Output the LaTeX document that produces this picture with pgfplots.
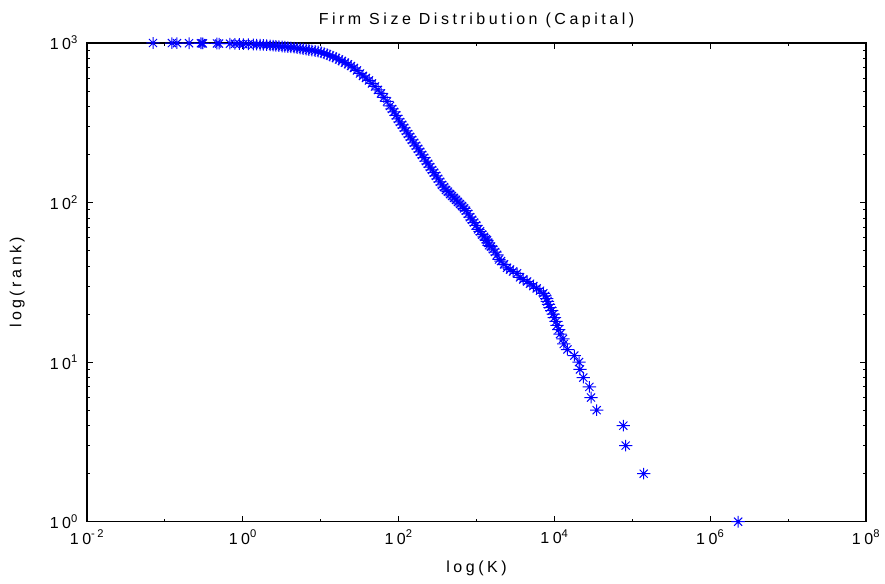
\documentclass[border=0pt]{standalone}
\usepackage{pgfplots}
\pgfplotsset{compat=1.18}
\usepackage{fontspec}
\setmainfont{Liberation Sans}[LetterSpace=22]

% MATLAB-style '*' marker: plus and cross
\pgfdeclareplotmark{mstar}{%
  \pgfpathmoveto{\pgfqpoint{-1.15\pgfplotmarksize}{0pt}}%
  \pgfpathlineto{\pgfqpoint{1.15\pgfplotmarksize}{0pt}}%
  \pgfpathmoveto{\pgfqpoint{0pt}{-\pgfplotmarksize}}%
  \pgfpathlineto{\pgfqpoint{0pt}{\pgfplotmarksize}}%
  \pgfpathmoveto{\pgfqpoint{-.7\pgfplotmarksize}{-.7\pgfplotmarksize}}%
  \pgfpathlineto{\pgfqpoint{.7\pgfplotmarksize}{.7\pgfplotmarksize}}%
  \pgfpathmoveto{\pgfqpoint{-.7\pgfplotmarksize}{.7\pgfplotmarksize}}%
  \pgfpathlineto{\pgfqpoint{.7\pgfplotmarksize}{-.7\pgfplotmarksize}}%
  \pgfusepathqstroke}

% capital K vs rank
\pgfplotstableread{
K rank
0.0704 1000
0.123 999
0.143 998
0.204 997
0.290 996
0.300 995
0.308 994
0.466 993
0.495 992
0.685 990
0.794 988
0.902 986
1.015 984
1.177 982
1.364 979
1.508 977
1.663 975
1.834 973
2.027 970
2.235 967
2.442 963
2.668 959
2.915 955
3.186 951
3.481 947
3.804 943
4.156 939
4.543 935
4.964 929
5.424 924
5.928 917
6.476 911
7.076 904
7.733 898
8.450 891
9.233 885
10.09 875
11.03 862
12.05 850
13.16 835
14.38 821
15.72 806
17.17 788
18.77 772
20.51 753
22.41 736
24.49 718
26.76 698
29.24 673
31.95 644
34.91 622
38.15 604
41.69 583
45.56 558
49.78 534
54.40 508
59.44 483
64.95 456
70.98 430
77.56 403
82.28 386
87.30 370
92.60 352
98.24 334
104.2 320
110.6 307
117.3 294
124.5 281
132.1 269
140.1 258
148.6 247
157.6 237
167.3 227
177.5 217
188.3 208
199.7 199
211.9 191
224.7 182
238.5 175
253.1 167
268.5 160
284.7 154
302.1 147
320.5 141
340.1 135
360.7 129
382.6 125
406.0 120
430.8 117
456.9 113
484.8 110
514.3 107
545.6 104
578.7 101
614.1 98
651.5 95
691.2 92
733.2 89
778.0 85
825.3 81
875.6 78
928.8 75
985.4 72
1045 68
1109 66
1177 63
1249 61
1324 59
1364 58
1405 56
1447 54
1535 53
1629 51
1728 49
1834 47
1945 44
2063 43
2254 41
2463 39
2692 38
2942 37
3311 36
3618 34
3980 33
4470 32
4860 31
5370 30
5930 29
6530 28
7210 27
7590 26
7960 25
8130 24
8410 23
8790 22
9230 21
9680 20
10000 19
10500 18
10800 17
11350 16
11800 15
12900 14
13200 13
14700 12
18000 11
20700 10
21300 9
23500 8
28100 7
29500 6
34900 5
76700 4
82200 3
140000 2
2280000 1
}\firmdata

\begin{document}
\begin{tikzpicture}
\begin{axis}[name=ax,
  scale only axis, width=779pt, height=478.7pt,
  xmode=log, ymode=log,
  xmin=1e-2, xmax=1e8, ymin=1, ymax=1000,
  clip=false,
  font=\fontsize{16}{19}\selectfont,
  axis line style={line width=1.1pt},
  every tick/.style={black, line width=1pt},
  major tick length=6pt, minor tick length=3pt,
  xtick={1e-2,1,1e2,1e4,1e6,1e8},
  xticklabels={10\textsuperscript{-2},10\textsuperscript{0},10\textsuperscript{2},10\textsuperscript{4},10\textsuperscript{6},10\textsuperscript{8}},
  minor xtick={1e-1,1e1,1e3,1e5,1e7},
  ytick={1,10,100,1000},
  yticklabels={10\textsuperscript{0},10\textsuperscript{1},10\textsuperscript{2},10\textsuperscript{3}},
  minor ytick={2,3,4,5,6,7,8,9,20,30,40,50,60,70,80,90,200,300,400,500,600,700,800,900},
  xticklabel style={inner sep=0pt, yshift=-8pt},
  yticklabel style={inner sep=0pt, xshift=-9pt},
  title={Firm Size Distribution (Capital)},
  title style={at={(axis description cs:0.5,1)}, anchor=base, yshift=12pt, inner sep=0pt},
  xlabel={log(K)},
  xlabel style={at={(axis description cs:0.5,0)}, anchor=base, yshift=-51pt, inner sep=0pt},
  ylabel={log(rank)},
  ylabel style={at={(axis description cs:0,0.5)}, anchor=south, yshift=62pt, inner sep=0pt},
]
\addplot[only marks, mark=mstar, mark size=5.8pt, color=blue, line width=1pt] table[x=K, y=rank] {\firmdata};
\end{axis}
\pgfresetboundingbox
\path[use as bounding box] ([xshift=-87pt,yshift=-61.3pt]ax.south west) rectangle ([xshift=19pt,yshift=43pt]ax.north east);
\end{tikzpicture}
\end{document}
